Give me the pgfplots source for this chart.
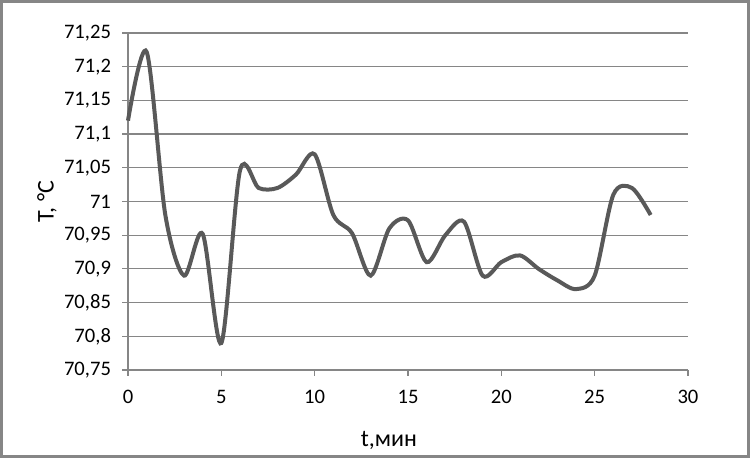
\documentclass[border=0pt]{standalone}
\usepackage{pgfplots}
\pgfplotsset{compat=1.18}
\usepackage{fontspec}
\setmainfont{Carlito}
\definecolor{gridc}{HTML}{868686}
\definecolor{linec}{HTML}{595959}
\begin{document}
\begin{tikzpicture}
\useasboundingbox (0,0) rectangle (375pt,229pt);
\begin{axis}[
  at={(64pt,44pt)}, anchor=south west,
  scale only axis, width=280pt, height=168.5pt,
  xmin=0, xmax=30, ymin=70.75, ymax=71.25,
  xtick={0,5,...,30},
  ytick={70.75,70.8,70.85,70.9,70.95,71,71.05,71.1,71.15,71.2,71.25},
  axis lines*=left,
  axis line style={gridc, line width=0.6pt, -},
  ymajorgrids, grid style={gridc, line width=0.6pt},
  tick style={gridc, line width=0.6pt},
  tick align=outside, major tick length=3pt,
  font=\fontsize{10}{12}\selectfont,
  tick label style={font=\fontsize{10.3}{12}\selectfont, text=black},
  /pgf/number format/.cd, use comma, 1000 sep={}, assume math mode=true,
  /pgfplots/.cd,
  xticklabel style={yshift=-3.5pt},
  yticklabel style={xshift=-2pt},
  xlabel={t,мин}, ylabel={T, °C},
  label style={font=\fontsize{12}{14}\selectfont},
  xlabel style={at={(axis description cs:0.466,-0.2077)}, anchor=center},
  ylabel style={at={(axis description cs:-0.1446,0.5)}, anchor=center},
  clip=false,
]
\addplot[linec, line width=2pt, smooth, tension=0.5] coordinates {
(0,71.12) (1,71.222) (2,70.98) (3,70.89) (4,70.952) (5,70.79) (6,71.046) (7,71.02)
(8,71.02) (9,71.04) (10,71.07) (11,70.98) (12,70.953) (13,70.89) (14,70.96)
(15,70.972) (16,70.91) (17,70.95) (18,70.97) (19,70.89) (20,70.91) (21,70.92)
(22,70.90) (23,70.883) (24,70.87) (25,70.89) (26,71.01) (27,71.02) (28,70.98)
};
\end{axis}
\draw[gridc, line width=1.5pt] (0.75pt,0.75pt) rectangle (374.25pt,228.25pt);
\end{tikzpicture}
\end{document}
